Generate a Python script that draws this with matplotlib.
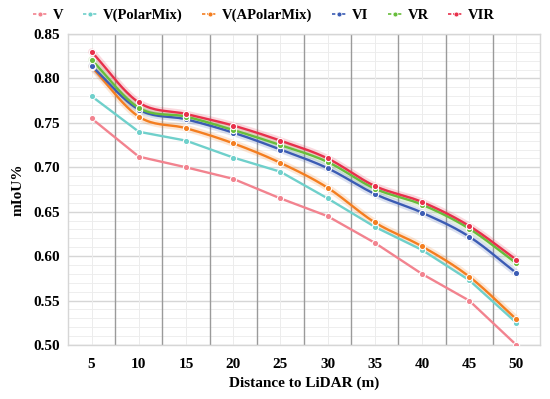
import numpy as np
import matplotlib
matplotlib.use("Agg")
import matplotlib.pyplot as plt
from matplotlib.lines import Line2D

plt.rcParams['font.family'] = ['Liberation Serif', 'DejaVu Serif']
plt.rcParams['font.weight'] = 'bold'

distances = [5, 10, 15, 20, 25, 30, 35, 40, 45, 50]
v = [0.755, 0.712, 0.700, 0.687, 0.665, 0.645, 0.615, 0.580, 0.550, 0.500]
v_polarmix = [0.780, 0.740, 0.730, 0.711, 0.695, 0.665, 0.633, 0.607, 0.573, 0.525]
v_apolarmix = [0.813, 0.757, 0.744, 0.727, 0.705, 0.677, 0.638, 0.611, 0.577, 0.529]
vi = [0.814, 0.765, 0.754, 0.739, 0.720, 0.699, 0.670, 0.649, 0.622, 0.581]
vr = [0.821, 0.767, 0.757, 0.742, 0.725, 0.706, 0.676, 0.658, 0.631, 0.592]
vir = [0.830, 0.773, 0.760, 0.747, 0.730, 0.710, 0.679, 0.661, 0.634, 0.596]

series = [
    ("V", v, "#f2838f", False),
    ("V(PolarMix)", v_polarmix, "#6fd0cb", False),
    ("V(APolarMix)", v_apolarmix, "#f47e20", True),
    ("VI", vi, "#3b5cb4", True),
    ("VR", vr, "#67bd3b", True),
    ("VIR", vir, "#e8304b", True),
]


def catmull_rom(x, y, n=20):
    x = np.asarray(x, float)
    y = np.asarray(y, float)
    px = np.concatenate([[2 * x[0] - x[1]], x, [2 * x[-1] - x[-2]]])
    py = np.concatenate([[2 * y[0] - y[1]], y, [2 * y[-1] - y[-2]]])
    xs, ys = [], []
    t = np.linspace(0, 1, n, endpoint=False)
    for i in range(1, len(px) - 2):
        p0, p1, p2, p3 = py[i - 1], py[i], py[i + 1], py[i + 2]
        q0, q1, q2, q3 = px[i - 1], px[i], px[i + 1], px[i + 2]
        t2, t3 = t * t, t * t * t
        ys.append(0.5 * ((2 * p1) + (-p0 + p2) * t + (2 * p0 - 5 * p1 + 4 * p2 - p3) * t2 + (-p0 + 3 * p1 - 3 * p2 + p3) * t3))
        xs.append(0.5 * ((2 * q1) + (-q0 + q2) * t + (2 * q0 - 5 * q1 + 4 * q2 - q3) * t2 + (-q0 + 3 * q1 - 3 * q2 + q3) * t3))
    xs.append([x[-1]])
    ys.append([y[-1]])
    return np.concatenate(xs), np.concatenate(ys)


fig = plt.figure(figsize=(5.5, 3.99), dpi=100)
ax = fig.add_axes([0.1236, 0.1353, 0.8582, 0.7795])

xpos = np.arange(len(distances))
ax.set_xlim(-0.5, len(distances) - 0.5)
ax.set_ylim(0.50, 0.85)

# grid
for yy in np.arange(0.50, 0.8501, 0.01):
    ax.axhline(yy, color="#eeeeee", lw=0.7, zorder=0)
for yy in np.arange(0.50, 0.8501, 0.05):
    ax.axhline(yy, color="#d6d6d6", lw=1.0, zorder=0)
for xx in xpos:
    ax.axvline(xx, color="#ececec", lw=0.7, zorder=0)
for xx in xpos[:-1] + 0.5:
    ax.axvline(xx, color="#9a9a9a", lw=1.0, zorder=0.5)

for name, vals, col, smooth in series:
    if smooth:
        sx, sy = catmull_rom(xpos, vals)
        ax.plot(sx, sy, color=col, lw=5, alpha=0.18, solid_capstyle='round', zorder=2)
        ax.plot(sx, sy, color=col, lw=1.7, zorder=3)
    else:
        ax.plot(xpos, vals, color=col, lw=1.7, zorder=3)
    ax.plot(xpos, vals, ls='none', marker='o', ms=4.5, mfc=col, mec='white', mew=0.8, zorder=4)

for s in ax.spines.values():
    s.set_color("#d6d6d6")
    s.set_linewidth(1.0)

ax.set_xticks(xpos)
ax.set_xticklabels([str(d) for d in distances])
ax.set_yticks(np.arange(0.50, 0.8501, 0.05))
ax.set_yticklabels([f"{t:.2f}" for t in np.arange(0.50, 0.8501, 0.05)])
ax.tick_params(length=0, labelsize=11, pad=9)
ax.tick_params(axis='y', pad=6)
for lbl in ax.get_xticklabels() + ax.get_yticklabels():
    lbl.set_fontweight('bold')

ax.set_xlabel("Distance to LiDAR (m)", fontsize=11, fontweight='bold', labelpad=4)
ax.set_ylabel("mIoU%", fontsize=11, fontweight='bold', labelpad=6)

handles = [Line2D([0], [0], color=col, lw=1.2, ls=(0, (2, 1)), marker='o', ms=3.5,
                  mfc=col, mec='white', mew=0.5) for _, _, col, _ in series]
fig.legend(handles, [s[0] for s in series], loc='center', bbox_to_anchor=(0.48, 0.962),
           ncol=6, frameon=False, handlelength=1.0, handletextpad=0.35,
           columnspacing=1.35, prop={'weight': 'bold', 'size': 10.5})

fig.savefig("out.png", dpi=100)
